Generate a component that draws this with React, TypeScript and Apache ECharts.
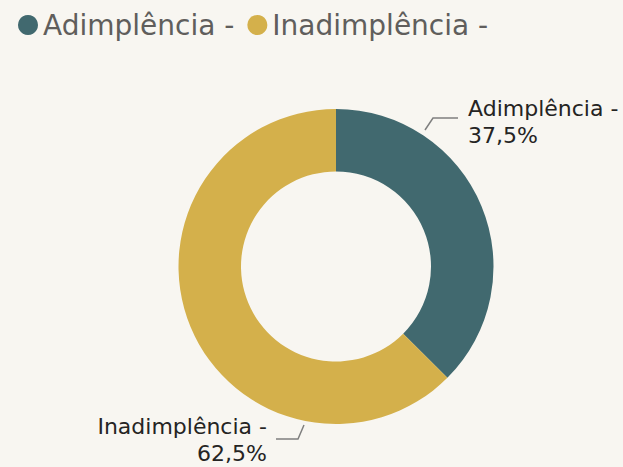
import React, { useEffect, useRef } from "react";
import * as echarts from "echarts";

const categories = ["Adimplência", "Inadimplência"];
const values = [37.5, 62.5];
const colors = ["#41696f", "#d4b04b"];

export default function App() {
  const ref = useRef<HTMLDivElement>(null);
  useEffect(() => {
    if (!ref.current) return;
    const chart = echarts.init(ref.current, null, { renderer: "svg" });
    const data = categories.map((c, i) => ({ name: c, value: values[i], itemStyle: { color: colors[i] } }));
    chart.setOption({
      animation: false,
      backgroundColor: "#f8f6f1",
      textStyle: { fontFamily: "DejaVu Sans" },
      legend: {
        left: 13,
        top: 6,
        icon: "circle",
        itemWidth: 20,
        itemHeight: 20,
        itemGap: 13,
        formatter: (n: string) => n + " -",
        textStyle: { fontSize: 28, color: "#605e5c", fontFamily: "DejaVu Sans" },
        data: categories,
      },
      series: [
        {
          type: "pie",
          center: [336, 266.5],
          radius: [95, 157.5],
          startAngle: 90,
          clockwise: true,
          data,
          label: {
            show: true,
            fontSize: 22,
            lineHeight: 27,
            overflow: "none",
            color: "#252423",
            fontFamily: "DejaVu Sans",
            formatter: (p: any) => `${p.name} -\n${p.percent.toFixed(1).replace(".", ",")}%`,
          },
          labelLine: { show: true, lineStyle: { color: "#7f7f7f", width: 1.5 } },
          labelLayout: (p: any) => {
            if (p.dataIndex === 0) {
              return {
                x: 468,
                y: 122,
                align: "left",
                verticalAlign: "middle",
                labelLinePoints: [[425, 130], [433, 118], [458, 118]],
              };
            }
            return {
              x: 267,
              y: 440,
              align: "right",
              verticalAlign: "middle",
              labelLinePoints: [[304, 425], [298, 439], [276, 439]],
            };
          },
        },
      ],
    });
    return () => chart.dispose();
  }, []);
  return <div ref={ref} style={{ position: "fixed", left: 0, top: 0, width: 623, height: 467 }} />;
}
